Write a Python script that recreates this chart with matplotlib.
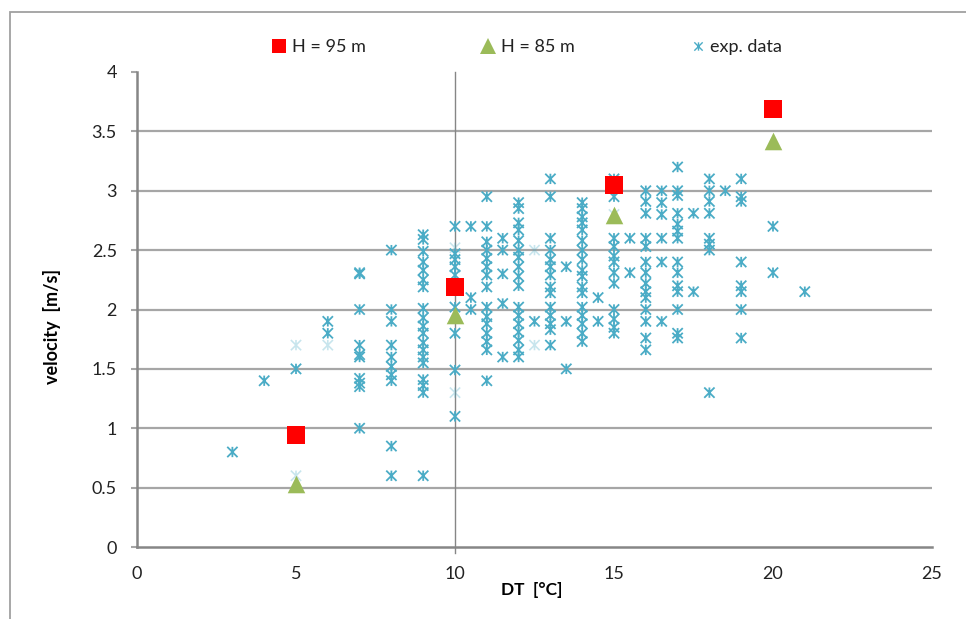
import numpy as np
import matplotlib
matplotlib.use("Agg")
import matplotlib.pyplot as plt
from matplotlib.path import Path
from matplotlib.lines import Line2D
from matplotlib.patches import Rectangle

plt.rcParams['font.family'] = ['Lato', 'DejaVu Sans']

# model results
h95_dt = [5, 10, 15, 20]
h95_vel = [0.94, 2.19, 3.05, 3.69]
h85_dt = [5, 10, 15, 20]
h85_vel = [0.53, 1.95, 2.80, 3.42]

# experimental data, one list of velocities per DT column
exp_cols = [3, 4, 5, 6, 7, 8, 9, 10, 10.5, 11, 11.5, 12, 12.5, 13, 13.5, 14, 14.5,
            15, 15.5, 16, 16.5, 17, 17.5, 18, 18.5, 19, 20, 21]
exp_vals = [
    [0.8],
    [1.4],
    [1.5],
    [1.9, 1.8],
    [2.31, 2.3, 2.0, 1.7, 1.62, 1.6, 1.42, 1.38, 1.35, 1.0],
    [2.5, 2.0, 1.9, 1.7, 1.6, 1.52, 1.45, 1.4, 0.85, 0.6],
    [2.63, 2.59, 2.49, 2.4, 2.33, 2.25, 2.19, 2.01, 1.93, 1.86, 1.8, 1.72, 1.66, 1.6,
     1.55, 1.41, 1.36, 1.3, 0.6],
    [2.7, 2.47, 2.42, 2.36, 2.29, 2.02, 1.8, 1.49, 1.1],
    [2.7, 2.1, 2.0],
    [2.95, 2.7, 2.57, 2.5, 2.43, 2.36, 2.29, 2.19, 2.02, 1.94, 1.88, 1.8, 1.73, 1.66, 1.4],
    [2.6, 2.5, 2.3, 2.05, 1.6],
    [2.9, 2.85, 2.73, 2.67, 2.58, 2.5, 2.44, 2.36, 2.28, 2.2, 2.02, 1.95, 1.88, 1.81,
     1.74, 1.66, 1.6],
    [1.9],
    [3.1, 2.95, 2.6, 2.5, 2.42, 2.36, 2.29, 2.19, 2.14, 2.02, 1.95, 1.88, 1.83, 1.7],
    [2.36, 1.9, 1.5],
    [2.9, 2.85, 2.78, 2.73, 2.67, 2.58, 2.5, 2.42, 2.33, 2.28, 2.19, 2.14, 2.02, 1.95,
     1.88, 1.8, 1.73],
    [2.1, 1.9],
    [3.1, 2.95, 2.6, 2.53, 2.45, 2.4, 2.31, 2.22, 2.0, 1.92, 1.85, 1.8],
    [2.6, 2.31],
    [3.0, 2.91, 2.81, 2.6, 2.53, 2.4, 2.31, 2.22, 2.15, 2.1, 2.0, 1.9, 1.76, 1.66],
    [3.0, 2.9, 2.8, 2.6, 2.4, 1.9],
    [3.2, 3.0, 2.96, 2.81, 2.72, 2.66, 2.6, 2.4, 2.31, 2.2, 2.15, 2.0, 1.8, 1.76],
    [2.81, 2.15],
    [3.1, 3.0, 2.91, 2.81, 2.6, 2.55, 2.5, 1.3],
    [3.0],
    [3.1, 2.95, 2.91, 2.4, 2.2, 2.15, 2.0, 1.76],
    [2.7, 2.31],
    [2.15],
]
# faint (half transparent) points
faint_dt = [5, 5, 6, 10, 10, 12.5, 12.5, 15]
faint_vel = [1.7, 0.6, 1.7, 2.52, 1.3, 2.5, 1.7, 2.8]

exp_dt = np.concatenate([[c] * len(v) for c, v in zip(exp_cols, exp_vals)])
exp_vel = np.concatenate(exp_vals)

# Excel style star marker: X with a vertical bar
star = Path([(-1, -1), (1, 1), (-1, 1), (1, -1), (0, -1), (0, 1)],
            [Path.MOVETO, Path.LINETO, Path.MOVETO, Path.LINETO, Path.MOVETO, Path.LINETO])

blue = '#4BACC6'
axis_grey = '#868686'
grid_grey = '#A6A6A6'

fig = plt.figure(figsize=(9.66, 6.19), dpi=100)
fig.patches.append(Rectangle((10 / 966, -0.1), 1.2, (619 - 12) / 619 + 0.1,
                             transform=fig.transFigure, fill=False,
                             edgecolor='#A0A0A0', linewidth=1.3))

ax = fig.add_axes([137 / 966, 72 / 619, 795 / 966, 475 / 619])

ax.scatter(faint_dt, faint_vel, marker=star, s=55, facecolors='none',
           edgecolors=blue, linewidths=1.2, alpha=0.3, zorder=3)
ax.scatter(exp_dt, exp_vel, marker=star, s=55, facecolors='none',
           edgecolors=blue, linewidths=1.3, zorder=3)
ax.scatter(h85_dt, h85_vel, marker='^', s=160, color='#9BBB59', zorder=4, linewidths=0)
ax.scatter(h95_dt, h95_vel, marker='s', s=160, color='#FF0000', zorder=5, linewidths=0)

ax.set_xlim(0, 25)
ax.set_ylim(0, 4)
ax.set_xticks([0, 5, 10, 15, 20, 25])
ax.set_yticks(np.arange(0, 4.01, 0.5))
ax.set_yticklabels(['0', '0.5', '1', '1.5', '2', '2.5', '3', '3.5', '4'])
for y in np.arange(0.5, 3.51, 0.5):
    ax.axhline(y, color=grid_grey, linewidth=1.6, zorder=1)
ax.axvline(10, ymin=-0.012, ymax=1, color=axis_grey, linewidth=1.0, zorder=1, clip_on=False)

for side in ['top', 'right']:
    ax.spines[side].set_visible(False)
for side in ['left', 'bottom']:
    ax.spines[side].set_color(axis_grey)
    ax.spines[side].set_linewidth(1.8)
ax.tick_params(axis='y', length=4.5, width=1.5, color=grid_grey, labelsize=13, pad=10,
               labelcolor='#222222')
ax.tick_params(axis='x', length=0, labelsize=13, pad=14, labelcolor='#222222')

fig.text(532 / 966, 1 - 590 / 619, 'DT  [°C]', ha='center', va='center',
         fontsize=12.5, fontweight='bold')
fig.text(52 / 966, 1 - 326 / 619, 'velocity  [m/s]', ha='center', va='center',
         fontsize=13, fontweight='bold', rotation=90)

handles = [
    Line2D([], [], marker='s', linestyle='none', markersize=10, color='#FF0000', markeredgewidth=0),
    Line2D([], [], marker='^', linestyle='none', markersize=11, color='#9BBB59', markeredgewidth=0),
    Line2D([], [], marker=star, linestyle='none', markersize=6, color=blue,
           markerfacecolor='none', markeredgewidth=1.0),
]
fig.legend(handles, ['H = 95 m', 'H = 85 m', 'exp. data'], ncol=3, frameon=False,
           loc='center', bbox_to_anchor=(527 / 966, 1 - 47 / 619), fontsize=13,
           handlelength=0.8, handletextpad=0.3, columnspacing=6.4, labelcolor='#222222')

fig.savefig('out.png', dpi=100)
